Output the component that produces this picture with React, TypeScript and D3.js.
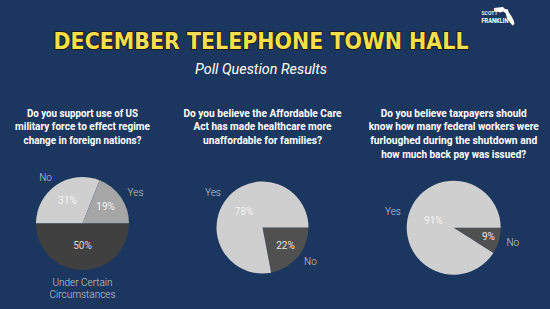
import React from "react";
import * as d3 from "d3";

const pageTitle = "DECEMBER TELEPHONE TOWN HALL";
const pageSubtitle = "Poll Question Results";

const q1Lines = ["Do you support use of US", "military force to effect regime", "change in foreign nations?"];
const q1Labels = ["No", "Yes", "Under Certain Circumstances"];
const q1Values = [31, 19, 50];

const q2Lines = ["Do you believe the Affordable Care", "Act has made healthcare more", "unaffordable for families?"];
const q2Labels = ["No", "Yes"];
const q2Values = [22, 78];

const q3Lines = [
  "Do you believe taxpayers should",
  "know how many federal workers were",
  "furloughed during the shutdown and",
  "how much back pay was issued?",
];
const q3Labels = ["No", "Yes"];
const q3Values = [9, 91];

const W = 550;
const H = 309;
const BG = "#1c375f";

type PieSpec = {
  lines: string[];
  labels: string[];
  values: number[];
  cx: number;
  cy: number;
  r: number;
  startAngle: number;
  colors: string[];
  pctColors: string[];
  innerF: number[];
  lineWidths: number[];
  labelLines: string[][];
};

const pies: PieSpec[] = [
  {
    lines: q1Lines,
    labels: q1Labels,
    values: q1Values,
    cx: 82.5,
    cy: 223.5,
    r: 46.5,
    startAngle: -Math.PI / 2,
    colors: ["#cfcfcf", "#a6a6a6", "#404040"],
    pctColors: ["#f4f4f4", "#f4f4f4", "#d8d8d8"],
    innerF: [0.57, 0.6, 0.49],
    lineWidths: [111, 135, 118],
    labelLines: [["No"], ["Yes"], ["Under Certain", "Circumstances"]],
  },
  {
    lines: q2Lines,
    labels: q2Labels,
    values: q2Values,
    cx: 262.5,
    cy: 227.5,
    r: 46,
    startAngle: Math.PI / 2,
    colors: ["#505050", "#cfcfcf"],
    pctColors: ["#e6e6e6", "#f4f4f4"],
    innerF: [0.65, 0.52],
    lineWidths: [158, 138, 119],
    labelLines: [["No"], ["Yes"]],
  },
  {
    lines: q3Lines,
    labels: q3Labels,
    values: q3Values,
    cx: 453.7,
    cy: 227.7,
    r: 47,
    startAngle: Math.PI / 2,
    colors: ["#505050", "#cfcfcf"],
    pctColors: ["#e6e6e6", "#f4f4f4"],
    innerF: [0.77, 0.45],
    lineWidths: [146, 170, 167, 145],
    labelLines: [["No"], ["Yes"]],
  },
];

function PieChart({ spec }: { spec: PieSpec }) {
  const pieGen = d3
    .pie<number>()
    .sort(null)
    .startAngle(spec.startAngle)
    .endAngle(spec.startAngle + 2 * Math.PI);
  const arcs = pieGen(spec.values);
  const arcGen = d3.arc<d3.PieArcDatum<number>>().innerRadius(0).outerRadius(spec.r);
  const titleCx = spec.cx;
  return (
    <g>
      {spec.lines.map((ln, i) => (
        <text
          key={"q" + i}
          x={titleCx}
          y={114 + i * 13.6}
          textAnchor="middle"
          dominantBaseline="middle"
          fill="#ffffff"
          fontFamily="Roboto, 'Liberation Sans', sans-serif"
          fontWeight={700}
          fontSize={10.5}
          textLength={spec.lineWidths[i]}
          lengthAdjust="spacingAndGlyphs"
        >
          {ln}
        </text>
      ))}
      <g transform={`translate(${spec.cx},${spec.cy})`}>
        {arcs.map((a, i) => (
          <path key={"s" + i} d={arcGen(a) || ""} fill={spec.colors[i]} />
        ))}
        {arcs.map((a, i) => {
          const mid = (a.startAngle + a.endAngle) / 2;
          const rr = spec.r * spec.innerF[i];
          const x = rr * Math.sin(mid);
          const y = -rr * Math.cos(mid);
          return (
            <text
              key={"p" + i}
              x={x}
              y={y}
              textAnchor="middle"
              dominantBaseline="middle"
              fill={spec.pctColors[i]}
              fontFamily="Roboto, sans-serif"
              fontWeight={400}
              fontSize={10}
            >
              {Math.round(a.value) + "%"}
            </text>
          );
        })}
        {arcs.map((a, i) => {
          const mid = (a.startAngle + a.endAngle) / 2;
          const s = Math.sin(mid);
          const c = Math.cos(mid);
          const vertical = Math.abs(s) < 0.3;
          const rr = vertical ? spec.r + 10 : spec.r + 8;
          const x = rr * s;
          const y = -rr * c;
          const anchor = vertical ? "middle" : s > 0 ? "start" : "end";
          const lines = spec.labelLines[i];
          return (
            <text
              key={"l" + i}
              x={x}
              y={vertical && c < 0 ? y + 3 : y}
              textAnchor={anchor}
              dominantBaseline="middle"
              fill="#c3c9d4"
              fontFamily="Roboto, sans-serif"
              fontWeight={300}
              fontSize={10}
            >
              {lines.map((t, j) => (
                <tspan key={j} x={x} dy={j === 0 ? 0 : 11.7}>
                  {t}
                </tspan>
              ))}
            </text>
          );
        })}
      </g>
    </g>
  );
}

export default function App() {
  return (
    <svg width={W} height={H} style={{ position: "absolute", left: 0, top: 0, display: "block" }}>
      <rect x={0} y={0} width={W} height={H} fill={BG} />
      {/* logo */}
      <g>
        <path
          d="M494,8 L503,7 L505,9 L508,9.5 L508.5,12 L511,15.5 L513.5,20 L514.5,24 L512.5,25.5 L510,22.5 L507,18 L505.5,13 L503,11.5 L500,12.5 L497,11.5 L494,11 Z"
          fill="#ffffff"
        />
        <text x={481.5} y={15} fill="#e8ecf2" fontFamily="Roboto, sans-serif" fontWeight={700} fontSize={6} textLength={16} lengthAdjust="spacingAndGlyphs">
          SCOTT
        </text>
        <text x={481.5} y={22.5} fill="#ffffff" fontFamily="Roboto, sans-serif" fontWeight={700} fontSize={7.5} textLength={27} lengthAdjust="spacingAndGlyphs">
          FRANKLIN
        </text>
      </g>
      <text
        x={261}
        y={48.5}
        textAnchor="middle"
        fill="#f7de4b"
        stroke="#1a1a1a"
        strokeWidth={2}
        paintOrder="stroke"
        strokeLinejoin="round"
        fontFamily="'DejaVu Sans', 'Open Sans', sans-serif"
        fontWeight={700}
        fontSize={23}
        textLength={415}
        lengthAdjust="spacingAndGlyphs"
      >
        {pageTitle}
      </text>
      <text
        x={261}
        y={73.5}
        textAnchor="middle"
        fill="#ffffff"
        fontFamily="Roboto, sans-serif"
        fontStyle="italic"
        fontWeight={400}
        fontSize={15}
        textLength={132}
        lengthAdjust="spacingAndGlyphs"
      >
        {pageSubtitle}
      </text>
      {pies.map((p, i) => (
        <PieChart key={i} spec={p} />
      ))}
    </svg>
  );
}
